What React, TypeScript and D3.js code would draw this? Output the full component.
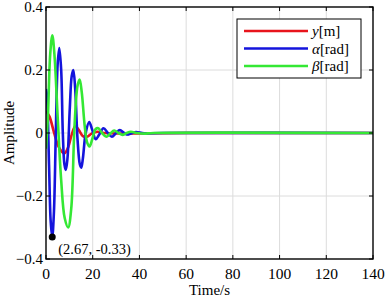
import React from "react";
import * as d3 from "d3";

// values (time in s, amplitude)
const yTime = [0, 1.5, 3.5, 5.5, 7.8, 9.5, 11, 12.6, 14, 15.8, 17.5, 19.5, 22, 25, 60, 140];
const yVals = [0.07, 0.052, 0.0, -0.045, -0.065, -0.045, -0.005, 0.022, 0.01, -0.01, -0.012, -0.002, 0.004, 0, 0, 0];

const alphaTime = [0, 0.4, 1.3, 2.0, 2.67, 3.4, 4.2, 5.0, 5.7, 6.5, 7.2, 7.9, 8.5, 9.2, 10.2, 11, 11.7, 12.5, 13.5, 14.5, 15.1, 15.8, 17, 18.5, 19.8, 21.3, 22.8, 24.6, 26.5, 28.2, 30, 31.6, 33.5, 35, 37, 38.5, 42, 50, 140];
const alphaVals = [0.14, 0.12, -0.1, -0.28, -0.33, -0.25, 0.0, 0.22, 0.27, 0.2, 0.0, -0.1, -0.117, -0.08, 0.08, 0.18, 0.2, 0.14, -0.02, -0.1, -0.11, -0.08, 0.0, 0.035, 0.01, -0.02, -0.005, 0.015, 0.0, -0.012, 0.0, 0.009, 0, -0.005, 0, 0.003, -0.001, 0, 0];

const betaTime = [0, 0.8, 1.8, 2.7, 3.6, 5, 6.5, 8, 9.5, 10.8, 12.2, 13.5, 14.4, 15.3, 16.6, 17.6, 18.6, 19.8, 21.2, 22.4, 24, 25.8, 27.5, 29.2, 31, 32.8, 34.5, 36.3, 39, 42, 46, 140];
const betaVals = [-0.05, 0.05, 0.25, 0.31, 0.25, 0.05, -0.15, -0.27, -0.3, -0.24, 0.02, 0.15, 0.17, 0.13, 0.02, -0.03, -0.043, -0.02, 0.012, 0.015, 0.0, -0.012, -0.002, 0.008, 0.0, -0.006, 0.0, 0.004, 0, -0.002, 0, 0];

const xTicks = [0, 20, 40, 60, 80, 100, 120, 140];
const yTicks = [-0.4, -0.2, 0, 0.2, 0.4];
const marker = { t: 2.67, v: -0.33, label: "(2.67, -0.33)" };

const series = [
  { name: "y", unit: "[m]", color: "#e8141c", t: yTime, v: yVals },
  { name: "α", unit: "[rad]", color: "#1414dc", t: alphaTime, v: alphaVals },
  { name: "β", unit: "[rad]", color: "#34e834", t: betaTime, v: betaVals },
];

const W = 386;
const H = 299;
const margin = { top: 7, right: 13, bottom: 40, left: 46 };
const font = "'Liberation Serif', 'Times New Roman', serif";

export default function App() {
  const x = d3.scaleLinear().domain([0, 140]).range([margin.left, W - margin.right]);
  const y = d3.scaleLinear().domain([-0.4, 0.4]).range([H - margin.bottom, margin.top]);
  const line = d3
    .line<[number, number]>()
    .x((d) => x(d[0]))
    .y((d) => y(d[1]))
    .curve(d3.curveCatmullRom.alpha(0.5));

  const x0 = x(0), x1 = x(140), y0 = y(-0.4), y1 = y(0.4);

  // legend box
  const lg = { x: 237, y: 19, w: 124, h: 59 };

  return (
    <div style={{ position: "fixed", left: 0, top: 0 }}>
      <svg width={W} height={H} style={{ display: "block", background: "#fff" }}>
        <rect x={0} y={0} width={W} height={H} fill="#fff" />
        {/* grid */}
        {xTicks.slice(1, -1).map((t) => (
          <line key={"gx" + t} x1={x(t)} x2={x(t)} y1={y0} y2={y1} stroke="#dcdcdc" strokeWidth={1} />
        ))}
        {yTicks.slice(1, -1).map((t) => (
          <line key={"gy" + t} x1={x0} x2={x1} y1={y(t)} y2={y(t)} stroke="#dcdcdc" strokeWidth={1} />
        ))}
        {/* data */}
        <g clipPath="url(#clip)">
          {series.map((s) => (
            <path
              key={s.name}
              d={line(s.t.map((t, i) => [t, s.v[i]] as [number, number])) || ""}
              fill="none"
              stroke={s.color}
              strokeWidth={2.6}
              strokeLinejoin="round"
            />
          ))}
        </g>
        <defs>
          <clipPath id="clip">
            <rect x={x0} y={y1} width={x1 - x0} height={y0 - y1} />
          </clipPath>
        </defs>
        {/* frame and ticks */}
        <rect x={x0} y={y1} width={x1 - x0} height={y0 - y1} fill="none" stroke="#000" strokeWidth={1.4} />
        {xTicks.map((t) => (
          <g key={"tx" + t}>
            <line x1={x(t)} x2={x(t)} y1={y0} y2={y0 - 4} stroke="#000" strokeWidth={1} />
            <line x1={x(t)} x2={x(t)} y1={y1} y2={y1 + 4} stroke="#000" strokeWidth={1} />
            <text x={x(t)} y={y0 + 20} textAnchor="middle" fontFamily={font} fontSize={15.5}>
              {t}
            </text>
          </g>
        ))}
        {yTicks.map((t) => (
          <g key={"ty" + t}>
            <line x1={x0} x2={x0 + 4} y1={y(t)} y2={y(t)} stroke="#000" strokeWidth={1} />
            <line x1={x1} x2={x1 - 4} y1={y(t)} y2={y(t)} stroke="#000" strokeWidth={1} />
            <text x={x0 - 3} y={y(t) + 5} textAnchor="end" fontFamily={font} fontSize={15}>
              {t === 0 ? "0" : d3.format(".1f")(t)}
            </text>
          </g>
        ))}
        {/* axis titles */}
        <text x={(x0 + x1) / 2} y={H - 4} textAnchor="middle" fontFamily={font} fontSize={15}>
          Time/s
        </text>
        <text
          transform={`translate(14,${(y0 + y1) / 2}) rotate(-90)`}
          textAnchor="middle"
          fontFamily={font}
          fontSize={15}
        >
          Amplitude
        </text>
        {/* marker */}
        <circle cx={x(marker.t)} cy={y(marker.v)} r={3.5} fill="#000" />
        <text x={x(marker.t) + 6} y={y(marker.v) + 17} fontFamily={font} fontSize={14.5}>
          {marker.label}
        </text>
        {/* legend */}
        <rect x={lg.x} y={lg.y} width={lg.w} height={lg.h} fill="#fff" stroke="#000" strokeWidth={1} />
        {series.map((s, i) => {
          const ly = lg.y + 12 + i * 17.5;
          return (
            <g key={"lg" + s.name}>
              <line x1={lg.x + 7} x2={lg.x + 71} y1={ly} y2={ly} stroke={s.color} strokeWidth={2.6} />
              <text x={lg.x + 75} y={ly + 5} fontFamily={font} fontSize={15}>
                <tspan fontStyle="italic">{s.name}</tspan>
                {s.unit}
              </text>
            </g>
          );
        })}
      </svg>
    </div>
  );
}
